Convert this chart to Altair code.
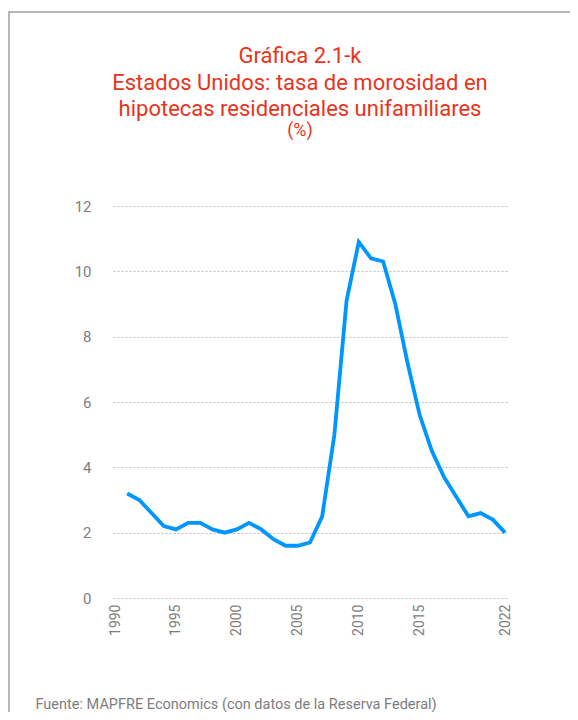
import altair as alt
import pandas as pd

years = list(range(1991, 2023))
rates = [3.2, 3.0, 2.6, 2.2, 2.1, 2.3, 2.3, 2.1, 2.0, 2.1,
         2.3, 2.1, 1.8, 1.6, 1.6, 1.7, 2.5, 5.0, 9.1, 10.9,
         10.4, 10.3, 9.0, 7.2, 5.6, 4.5, 3.7, 3.1, 2.5, 2.6,
         2.4, 2.0]
x_ticks = [1990, 1995, 2000, 2005, 2010, 2015, 2022]
y_ticks = [0, 2, 4, 6, 8, 10, 12]
title_lines = ["Gráfica 2.1-k",
               "Estados Unidos: tasa de morosidad en",
               "hipotecas residenciales unifamiliares"]
subtitle = "(%)"
source = "Fuente: MAPFRE Economics (con datos de la Reserva Federal)"

RED = "#e8341c"
GRAY = "#7d7d7d"
FONT = "Roboto"

df = pd.DataFrame({"year": years, "rate": rates})

line = alt.Chart(df).mark_line(color="#0096ff", strokeWidth=3.8).encode(
    x=alt.X("year:Q",
            scale=alt.Scale(domain=[1990, 2022], nice=False, zero=False, padding=2),
            axis=alt.Axis(values=x_ticks, format="d", labelAngle=270,
                          labelAlign="right", labelBaseline="middle",
                          labelFont=FONT, labelFontSize=14, labelColor=GRAY,
                          labelPadding=6, domain=False, ticks=False, grid=False,
                          title=source, titleFont=FONT, titleFontSize=14.5,
                          titleFontWeight="normal", titleColor=GRAY,
                          titleAlign="left", titleBaseline="alphabetic",
                          titleAnchor="start", titleX=-78, titleY=110)),
    y=alt.Y("rate:Q",
            scale=alt.Scale(domain=[0, 12], nice=False),
            axis=alt.Axis(values=y_ticks, labelFont=FONT, labelFontSize=15,
                          labelColor=GRAY, labelPadding=22, domain=False,
                          ticks=False, grid=True, gridColor="#bdbdbd",
                          gridDash=[2, 2], gridWidth=1, title=None)),
)

frame_data = alt.Data(values=[{"k": 0}])
border_top = alt.Chart(frame_data).mark_rule(color="#b8b8b8", strokeWidth=2).encode(
    x=alt.value(-105), x2=alt.value(470), y=alt.value(-194))
border_left = alt.Chart(frame_data).mark_rule(color="#b8b8b8", strokeWidth=2).encode(
    x=alt.value(-104), y=alt.value(-195), y2=alt.value(520))

title_mark = alt.Chart(frame_data).mark_text(
    font=FONT, fontSize=22, fontWeight="normal", color=RED, align="center",
    baseline="alphabetic", lineHeight=26.5).encode(
    x=alt.value(187), y=alt.value(-143), text=alt.value(title_lines))
subtitle_mark = alt.Chart(frame_data).mark_text(
    font=FONT, fontSize=18, fontWeight="normal", color=RED, align="center",
    baseline="alphabetic").encode(
    x=alt.value(187), y=alt.value(-70), text=alt.value(subtitle))

chart = alt.layer(border_top, border_left, title_mark, subtitle_mark, line).properties(
    width=394, height=392,
    autosize=alt.AutoSizeParams(type="none"),
    padding={"left": 105, "top": 198, "right": 63, "bottom": 114},
).configure(background="white").configure_view(stroke=None)

chart.save("out.html", embed_options={"renderer": "svg", "actions": False})
